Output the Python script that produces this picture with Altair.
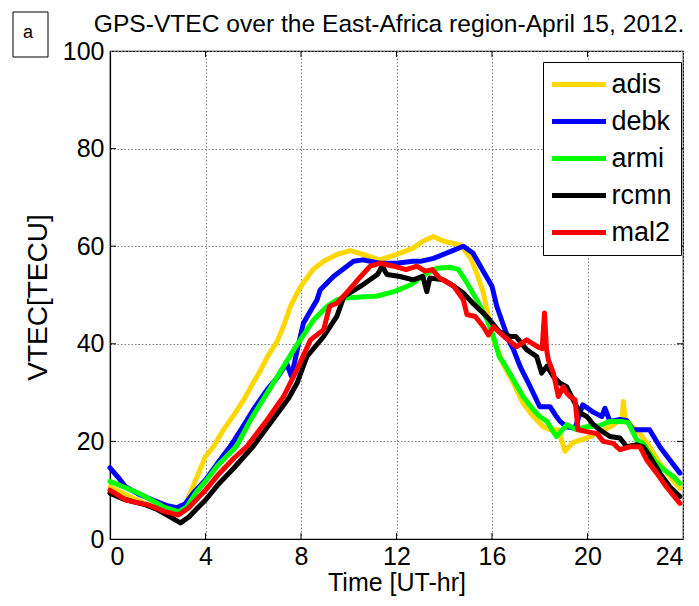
import altair as alt
import pandas as pd

FONT = "Liberation Sans"
W, H = 573, 488  # plot area in pixels

stations = ["adis", "debk", "armi", "rcmn", "mal2"]
colors = ["#FFD700", "#0000FF", "#00FF00", "#000000", "#FF0000"]

x_ticks = [0, 4, 8, 12, 16, 20, 24]
y_ticks = [0, 20, 40, 60, 80, 100]

title_text = "GPS-VTEC over the East-Africa region-April 15, 2012."

# VTEC (TECU) against universal time (hours) for each GPS station
adis_t = [0, 0.5, 1.0, 1.5, 2.0, 2.5, 2.9, 3.2, 3.5, 4.0,
          4.35, 4.7, 5.2, 5.6, 6.0, 6.3, 6.6, 7.0, 7.3, 7.55,
          7.97, 8.5, 8.95, 9.5, 10.06, 10.6, 11.3, 12.0, 12.7, 13.1,
          13.55, 13.97, 14.67, 15.1, 15.36, 15.64, 15.85, 16.06, 16.5, 16.9,
          17.3, 17.73, 18.15, 18.43, 18.78, 19.06, 19.4, 19.8, 20.4, 20.94,
          21.3, 21.45, 21.5, 21.58, 21.85, 22.2, 22.6, 23.03, 23.45, 23.87]
adis_v = [10.7, 9.5, 8.3, 7.2, 6.3, 5.5, 5.2, 7.5, 11.0, 16.9,
          19.0, 22.0, 25.5, 28.5, 32.0, 34.5, 37.4, 40.5, 44.0, 47.6,
          51.6, 55.2, 56.9, 58.3, 59.1, 58.3, 57.2, 58.3, 59.6, 61.0,
          62.0, 61.0, 60.3, 57.6, 54.5, 50.4, 45.6, 40.8, 35.5, 32.0,
          27.8, 25.1, 23.0, 22.4, 22.4, 18.0, 19.8, 20.4, 21.6, 23.0,
          24.1, 24.0, 28.2, 24.5, 23.2, 21.6, 18.9, 15.5, 12.8, 10.4]

debk_t = [0, 0.35, 0.65, 1.2, 1.8, 2.4, 2.8, 3.15, 3.5, 4.0,
          4.5, 5.04, 5.5, 6.0, 6.58, 7.0, 7.4, 7.6, 7.9, 8.1,
          8.25, 8.67, 8.8, 9.36, 10.2, 10.6, 11.3, 12.0, 12.7, 13.0,
          13.55, 14.25, 14.8, 15.2, 15.64, 16.0, 16.2, 16.5, 16.76, 16.9,
          17.18, 17.6, 18.0, 18.43, 18.7, 18.85, 19.13, 19.48, 19.8, 20.24,
          20.6, 20.73, 20.94, 21.36, 21.64, 21.9, 22.6, 23.03, 23.45, 23.87]
debk_v = [14.6, 12.6, 10.7, 9.2, 8.0, 6.8, 6.4, 7.2, 9.5, 12.1,
          15.5, 19.0, 22.5, 26.5, 30.6, 33.0, 36.0, 33.3, 40.0, 44.2,
          45.5, 49.0, 51.0, 53.8, 56.9, 57.2, 56.5, 56.5, 56.9, 56.9,
          57.5, 58.9, 60.0, 58.6, 54.8, 51.8, 47.7, 43.5, 40.1, 38.8,
          35.3, 31.2, 27.1, 27.1, 25.1, 24.1, 23.0, 22.7, 27.5, 26.0,
          25.1, 26.8, 24.1, 24.5, 24.3, 22.4, 22.4, 18.9, 16.2, 13.5]

armi_t = [0, 0.5, 1.2, 1.8, 2.3, 2.87, 3.2, 3.6, 4.0, 4.5,
          5.3, 5.9, 6.58, 7.1, 7.7, 7.97, 8.53, 9.1, 9.5, 9.8,
          10.5, 11.2, 11.9, 12.6, 13.3, 13.7, 14.25, 14.6, 14.95, 15.36,
          15.8, 16.06, 16.3, 16.5, 16.9, 17.3, 17.73, 18.0, 18.3, 18.5,
          18.7, 19.13, 19.55, 19.97, 20.5, 20.94, 21.36, 21.7, 22.06, 22.33,
          22.78, 23.2, 23.6, 23.87]
armi_v = [11.8, 10.8, 9.4, 7.8, 6.4, 5.6, 6.5, 9.5, 11.8, 15.0,
          19.0, 24.5, 29.9, 34.0, 38.8, 40.8, 44.9, 47.7, 49.0, 49.4,
          49.6, 49.8, 50.7, 52.1, 54.5, 55.5, 55.7, 55.2, 52.5, 49.0,
          44.9, 41.5, 37.4, 36.0, 32.6, 29.2, 26.5, 25.1, 24.1, 22.5,
          21.0, 23.4, 22.4, 23.0, 23.2, 24.1, 24.1, 23.9, 20.3, 19.6,
          16.2, 14.2, 12.8, 11.4]

rcmn_t = [0, 0.5, 1.0, 1.5, 2.0, 2.5, 2.95, 3.3, 3.7, 4.0,
          4.5, 5.2, 6.0, 6.6, 7.13, 7.5, 7.83, 8.25, 8.95, 9.5,
          9.8, 10.5, 11.2, 11.4, 11.6, 12.15, 12.7, 13.1, 13.27, 13.4,
          13.97, 14.4, 14.8, 15.2, 15.64, 15.9, 16.3, 16.76, 17.0, 17.45,
          17.87, 18.08, 18.3, 18.57, 18.85, 19.13, 19.4, 19.69, 19.97, 20.24,
          20.5, 20.94, 21.36, 21.64, 22.06, 22.33, 22.6, 23.03, 23.45, 23.87]
rcmn_v = [9.4, 8.3, 7.6, 7.0, 6.0, 4.6, 3.3, 4.5, 6.5, 8.0,
          11.0, 14.6, 19.0, 23.0, 26.5, 29.0, 31.9, 37.4, 41.5, 45.6,
          49.7, 51.8, 54.2, 55.9, 54.2, 53.8, 53.1, 53.8, 50.7, 53.5,
          53.1, 51.8, 50.4, 48.3, 46.3, 44.9, 42.5, 41.5, 41.5, 38.8,
          37.4, 34.0, 35.4, 33.3, 31.9, 31.2, 28.5, 25.8, 25.1, 23.5,
          22.4, 21.0, 20.7, 18.9, 19.3, 18.9, 17.0, 13.5, 10.7, 8.7]

mal2_t = [0, 0.65, 1.0, 1.6, 2.3, 2.87, 3.3, 3.7, 4.0, 4.5,
          5.2, 5.74, 6.58, 7.27, 7.83, 8.4, 8.95, 9.2, 9.5, 9.9,
          10.5, 10.9, 11.3, 11.9, 12.4, 12.85, 13.2, 13.5, 13.8, 14.4,
          14.8, 14.95, 15.3, 15.64, 15.85, 16.06, 16.5, 17.04, 17.45, 17.9,
          18.1, 18.2, 18.28, 18.36, 18.57, 18.78, 18.99, 19.13, 19.27, 19.48,
          19.6, 19.97, 20.4, 20.66, 21.08, 21.36, 21.78, 22.2, 22.48, 22.9,
          23.3, 23.87]
mal2_v = [10.0, 8.0, 7.6, 7.0, 5.6, 4.9, 6.4, 8.5, 10.0, 13.0,
          16.6, 19.0, 24.4, 29.2, 34.7, 40.8, 42.9, 47.7, 48.3, 50.4,
          53.8, 55.9, 56.5, 55.9, 55.2, 55.9, 54.9, 55.2, 53.5, 51.8,
          49.0, 46.0, 45.6, 43.5, 41.8, 43.5, 41.5, 39.4, 40.8, 39.4,
          39.0, 46.3, 39.0, 36.7, 34.0, 29.2, 31.2, 29.9, 29.2, 28.5,
          22.4, 22.0, 21.6, 20.0, 19.6, 18.3, 18.9, 18.9, 16.2, 13.5,
          10.7, 7.3]

series = {
    "adis": (adis_t, adis_v),
    "debk": (debk_t, debk_v),
    "armi": (armi_t, armi_v),
    "rcmn": (rcmn_t, rcmn_v),
    "mal2": (mal2_t, mal2_v),
}

x_enc = alt.X(
    "hour:Q",
    scale=alt.Scale(domain=[0, 24], nice=False, zero=False),
    axis=alt.Axis(values=x_ticks, title="Time [UT-hr]", labelPadding=5,
                  titleY=51, titleBaseline="alphabetic"),
)
y_enc = alt.Y(
    "vtec:Q",
    scale=alt.Scale(domain=[0, 100], nice=False),
    axis=alt.Axis(values=y_ticks, title="VTEC[TECU]", labelPadding=6,
                  titleX=-64, titleY=246, titleBaseline="alphabetic",
                  titleAngle=270, titleAlign="center", titleFontSize=28),
)

# long horizontal line swatch; the path spans beyond the unit box so the
# row height stays close to the label size
legend = alt.Legend(
    title=None, orient="none", legendX=433, legendY=11,
    symbolType="M-2.7,0H2.7", symbolSize=400, symbolStrokeWidth=5,
    symbolOffset=13.5, labelOffset=19,
    labelFont=FONT, labelFontSize=27, labelColor="black", labelLimit=0,
    strokeColor="black", fillColor="white",
    padding=9, rowPadding=9, cornerRadius=0,
)
color_enc = alt.Color("station:N", scale=alt.Scale(domain=stations, range=colors),
                      legend=legend)

# one layer per station so later stations draw on top
lines = []
for name in stations:
    t, v = series[name]
    df = pd.DataFrame({"hour": t, "vtec": v, "station": name})
    lines.append(
        alt.Chart(df).mark_line(strokeWidth=5, strokeJoin="round", strokeCap="round")
        .encode(x=x_enc, y=y_enc, color=color_enc)
    )

# inward tick marks on all four sides of the box
xt = pd.DataFrame({"hour": x_ticks[1:-1]})
yt = pd.DataFrame({"vtec": y_ticks[1:-1]})
tick_style = dict(color="black", strokeWidth=1)
ticks = [
    alt.Chart(xt).mark_rule(**tick_style).encode(x=x_enc, y=alt.value(H), y2=alt.value(H - 6)),
    alt.Chart(xt).mark_rule(**tick_style).encode(x=x_enc, y=alt.value(0), y2=alt.value(6)),
    alt.Chart(yt).mark_rule(**tick_style).encode(y=y_enc, x=alt.value(0), x2=alt.value(6)),
    alt.Chart(yt).mark_rule(**tick_style).encode(y=y_enc, x=alt.value(W), x2=alt.value(W - 6)),
]

# chart heading above the box
heading = alt.Chart(alt.Data(values=[{"label": title_text}])).mark_text(
    font=FONT, fontSize=24.6, color="black", align="center", baseline="alphabetic"
).encode(text="label:N", x=alt.value(279), y=alt.value(-19))

# panel tag in the top-left corner
tag_data = alt.Data(values=[{"tag": "a"}])
tag_box = alt.Chart(tag_data).mark_rect(fill="white", stroke="black", strokeWidth=1).encode(
    x=alt.value(-97), x2=alt.value(-62), y=alt.value(-39), y2=alt.value(6))
tag_text = alt.Chart(tag_data).mark_text(font=FONT, fontSize=18, color="black",
                                         baseline="alphabetic").encode(
    text="tag:N", x=alt.value(-82), y=alt.value(-13))

chart = (
    alt.layer(*lines, *ticks, heading, tag_box, tag_text)
    .properties(
        width=W, height=H,
        autosize=alt.AutoSizeParams(type="none"),
        padding={"left": 110, "top": 51, "right": 16, "bottom": 67},
        background="white",
    )
    .configure_view(stroke="black", strokeWidth=1.2)
    .configure_axis(
        domainColor="black", domainWidth=1.2, tickSize=0,
        grid=True, gridColor="#808080", gridDash=[1.5, 2], gridWidth=1, gridOpacity=1,
        labelFont=FONT, labelFontSize=25, labelColor="black",
        titleFont=FONT, titleFontSize=25, titleColor="black", titleFontWeight="normal",
    )
)

chart.save("out.html", embed_options={"renderer": "svg", "actions": False})
